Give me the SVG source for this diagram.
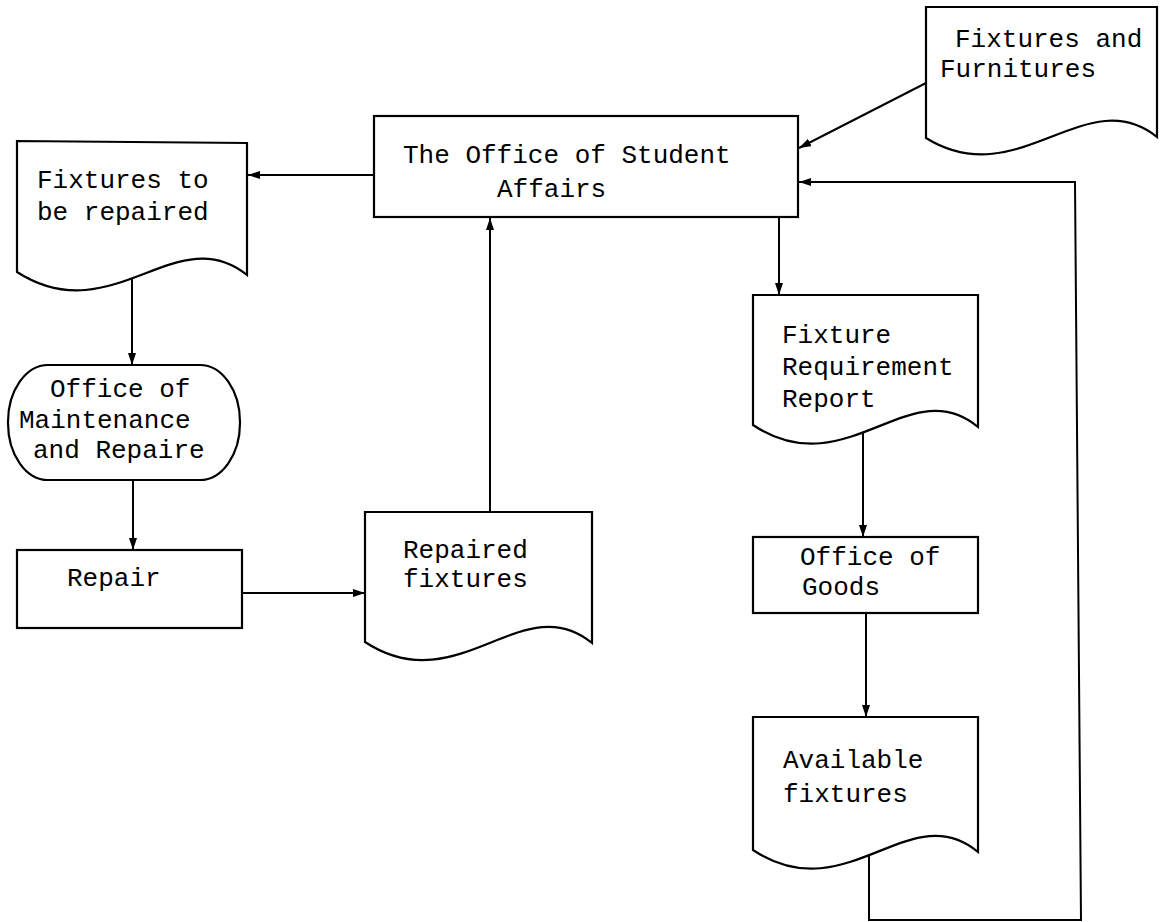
<svg xmlns="http://www.w3.org/2000/svg" width="1166" height="922" viewBox="0 0 1166 922">
<defs>
<marker id="arr" viewBox="0 0 12 8" refX="12" refY="4" markerWidth="12" markerHeight="8" markerUnits="userSpaceOnUse" orient="auto">
<path d="M0,0 L12,4 L0,8 Z" fill="#000"/>
</marker>
</defs>
<style>
.s{fill:#fff;stroke:#000;stroke-width:2.2;stroke-linejoin:miter}
.c{fill:none;stroke:#000;stroke-width:2}
text{font-family:"Liberation Mono","DejaVu Sans Mono",monospace;font-size:26px;fill:#000}
</style>
<rect width="1166" height="922" fill="#fff"/>
<g id="connectors">
<line class="c" x1="374" y1="175" x2="248" y2="175" marker-end="url(#arr)"/>
<line class="c" x1="132" y1="273" x2="132" y2="365" marker-end="url(#arr)"/>
<line class="c" x1="133" y1="480" x2="133" y2="550" marker-end="url(#arr)"/>
<line class="c" x1="242" y1="593" x2="365" y2="593" marker-end="url(#arr)"/>
<line class="c" x1="490" y1="512" x2="490" y2="218" marker-end="url(#arr)"/>
<line class="c" x1="779" y1="217" x2="779" y2="295" marker-end="url(#arr)"/>
<line class="c" x1="863" y1="432" x2="863" y2="537" marker-end="url(#arr)"/>
<line class="c" x1="866" y1="613" x2="866" y2="717" marker-end="url(#arr)"/>
<path class="c" d="M869,851 L869,920 L1081,920 L1075,182 L799,182" marker-end="url(#arr)"/>
<line class="c" x1="926" y1="83" x2="799" y2="148" marker-end="url(#arr)"/>
</g>
<g id="osa">
<rect class="s" x="374" y="116" width="424" height="101"/>
<text x="403" y="163">The Office of Student</text>
<text x="497" y="197">Affairs</text>
</g>
<g id="fixtures-furnitures">
<path class="s" d="M926,7 L1157,7 L1157,137 C1086,80 1018,195 926,138 Z"/>
<text x="955" y="47">Fixtures and</text>
<text x="940" y="77">Furnitures</text>
</g>
<g id="to-be-repaired">
<path class="s" d="M17,141 L247,143 L247,275 C176,218 112,333 17,272 Z"/>
<text x="37" y="188">Fixtures to</text>
<text x="37" y="220">be repaired</text>
</g>
<g id="maintenance">
<rect class="s" x="8" y="365" width="232" height="115" rx="40" ry="57"/>
<text x="50" y="397">Office of</text>
<text x="19" y="428">Maintenance</text>
<text x="33" y="458">and Repaire</text>
</g>
<g id="repair">
<rect class="s" x="17" y="550" width="225" height="78"/>
<text x="67" y="586">Repair</text>
</g>
<g id="repaired-fixtures">
<path class="s" d="M365,512 L592,512 L592,643 C522,586 458,703 365,642 Z"/>
<text x="403" y="558">Repaired</text>
<text x="403" y="587">fixtures</text>
</g>
<g id="requirement-report">
<path class="s" d="M753,295 L978,295 L978,427 C910,370 846,487 753,425 Z"/>
<text x="782" y="343">Fixture</text>
<text x="782" y="375">Requirement</text>
<text x="782" y="407">Report</text>
</g>
<g id="goods">
<rect class="s" x="753" y="537" width="225" height="76"/>
<text x="800" y="565">Office of</text>
<text x="802" y="595">Goods</text>
</g>
<g id="available-fixtures">
<path class="s" d="M753,717 L978,717 L978,852 C910,795 846,912 753,850 Z"/>
<text x="783" y="768">Available</text>
<text x="783" y="802">fixtures</text>
</g>
</svg>
